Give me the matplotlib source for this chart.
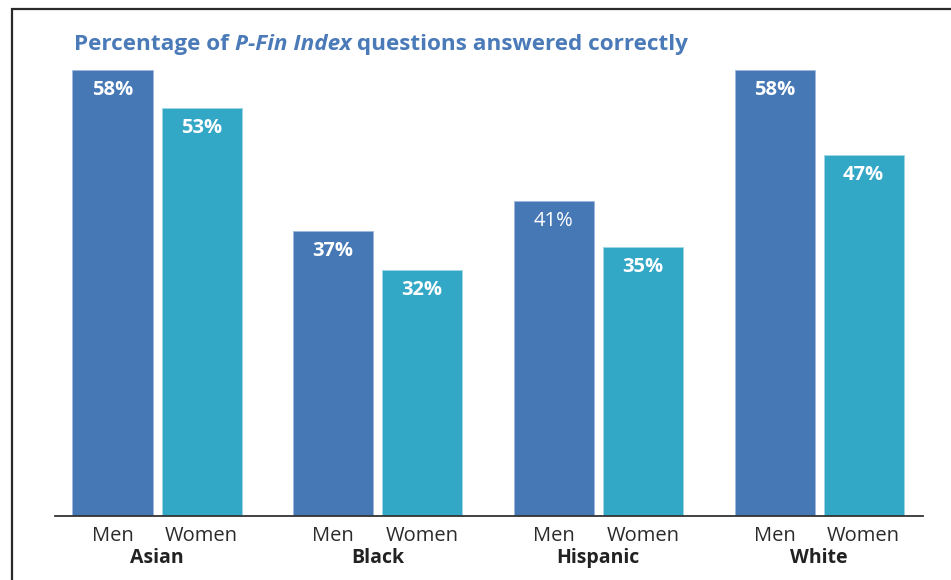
import matplotlib
matplotlib.use("Agg")
import matplotlib.pyplot as plt
from matplotlib.patches import Rectangle
import numpy as np

groups = ["Asian", "Black", "Hispanic", "White"]
sexes = ["Men", "Women"]
men = [58, 37, 41, 58]
women = [53, 32, 35, 47]
men_label_weights = ["bold", "bold", "normal", "bold"]

C_MEN = "#4678b5"
C_WOMEN = "#33a7c6"
C_TITLE = "#4a7ab8"
FONT = ["Open Sans", "DejaVu Sans"]

W, H = 951, 580
fig = plt.figure(figsize=(W / 100, H / 100), dpi=100)

# axes geometry in pixels
ax_left, ax_right = 55, 923
base_y = 516
px_per_pct = 7.69
ymax = 62
ax_top = base_y - ymax * px_per_pct
ax = fig.add_axes([ax_left / W, (H - base_y) / H, (ax_right - ax_left) / W, (base_y - ax_top) / H])

centers_px = np.array([157, 378, 598, 819])
unit = (centers_px[-1] - centers_px[0]) / 3
x = np.arange(len(groups))
ax.set_xlim((ax_left - centers_px[0]) / unit, (ax_right - centers_px[0]) / unit)
ax.set_ylim(0, ymax)

bw = 80 / unit
off = 44.5 / unit
ax.bar(x - off, men, width=bw, color=C_MEN, edgecolor="#9fb8dc", linewidth=0.6)
ax.bar(x + off, women, width=bw, color=C_WOMEN, edgecolor="#9fd6e6", linewidth=0.6)

lab_off = 20 / px_per_pct
for i in range(len(groups)):
    ax.text(x[i] - off, men[i] - lab_off, f"{men[i]}%", ha="center", va="center",
            color="white", fontsize=14.5, fontweight=men_label_weights[i], family=FONT)
    ax.text(x[i] + off, women[i] - lab_off, f"{women[i]}%", ha="center", va="center",
            color="white", fontsize=14.5, fontweight="bold", family=FONT)

for s in ["top", "right", "left"]:
    ax.spines[s].set_visible(False)
ax.spines["bottom"].set_color("#333333")
ax.spines["bottom"].set_linewidth(1.3)
ax.set_yticks([])
ticks = np.concatenate([x - off, x + off])
ax.set_xticks(np.sort(ticks))
ax.set_xticklabels([s for _ in groups for s in sexes], fontsize=14.5, color="#2a2a2a", family=FONT)
ax.tick_params(axis="x", length=0, pad=7)

for i, g in enumerate(groups):
    ax.text(x[i], -42 / px_per_pct, g, ha="center", va="center", fontsize=14,
            fontweight="bold", color="#222222", family=FONT, clip_on=False)

# frame
fig.patches.append(Rectangle((12 / W, -0.1), 1.2, (H - 8.7) / H + 0.1, transform=fig.transFigure,
                             fill=False, edgecolor="#2a2a2a", linewidth=1.6))

# title with italic part
renderer = fig.canvas.get_renderer()
parts = [("Percentage of ", "normal"), ("P-Fin Index", "italic"), (" questions answered correctly", "normal")]
xpos = 74 / W
ty = (H - 50) / H
for txt, style in parts:
    t = fig.text(xpos, ty, txt, fontsize=16.2, fontweight="bold", style=style,
                 color=C_TITLE, family=FONT, ha="left", va="baseline")
    bb = t.get_window_extent(renderer=renderer)
    xpos = bb.x1 / W

fig.savefig("out.png", dpi=100)
